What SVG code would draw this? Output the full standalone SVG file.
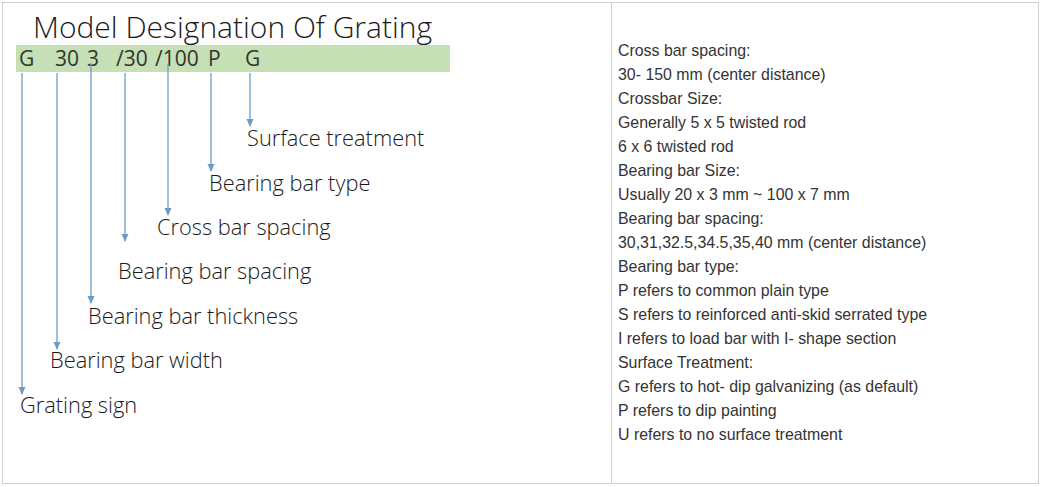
<svg xmlns="http://www.w3.org/2000/svg" width="1045" height="487" viewBox="0 0 1045 487">
<defs>
<style>
.lbl{font-family:"Open Sans","Noto Sans",sans-serif;font-weight:300;font-size:21.8px;fill:#1a1a1a}
.code{font-family:"Open Sans","Noto Sans",sans-serif;font-weight:400;font-size:21px;fill:#333}
.desc{font-family:"Liberation Sans",Arial,sans-serif;font-size:15.9px;fill:#333}
.con{stroke:#6f9cc6;stroke-width:1.3;fill:none}
.ah{fill:#6f9cc6}
</style>
</defs>
<rect x="0" y="0" width="1045" height="487" fill="#fff"/>
<rect x="2.5" y="2.5" width="1036" height="481" fill="none" stroke="#d0d0d0" stroke-width="1"/>
<line x1="611.5" y1="3" x2="611.5" y2="483" stroke="#d0d0d0" stroke-width="1"/>
<g id="title">
<text x="33" y="38" style="font-family:'Open Sans','Noto Sans',sans-serif;font-weight:300;font-size:30px;fill:#1a1a1a">Model Designation Of Grating</text>
</g>
<g id="code">
<rect x="16" y="45" width="434" height="27" fill="#c5e0b4"/>
<text class="code" x="19" y="66">G</text>
<text class="code" x="55" y="66">30</text>
<text class="code" x="87" y="66">3</text>
<text class="code" x="116" y="66">/30</text>
<text class="code" x="155" y="66">/100</text>
<text class="code" x="208" y="66">P</text>
<text class="code" x="245" y="66">G</text>
</g>
<g id="connectors">
<line class="con" x1="22" y1="73" x2="22" y2="394"/>
<path class="ah" d="M18.5,387 L25.5,387 L22,395 Z"/>
<line class="con" x1="57" y1="73" x2="57" y2="349"/>
<path class="ah" d="M53.5,342 L60.5,342 L57,350 Z"/>
<line class="con" x1="91" y1="63" x2="91" y2="303"/>
<path class="ah" d="M87.5,296 L94.5,296 L91,304 Z"/>
<line class="con" x1="125" y1="73" x2="125" y2="241"/>
<path class="ah" d="M121.5,234 L128.5,234 L125,242 Z"/>
<line class="con" x1="168" y1="64" x2="168" y2="215"/>
<path class="ah" d="M164.5,208 L171.5,208 L168,216 Z"/>
<line class="con" x1="211" y1="73" x2="211" y2="171"/>
<path class="ah" d="M207.5,164 L214.5,164 L211,172 Z"/>
<line class="con" x1="250" y1="73" x2="250" y2="126"/>
<path class="ah" d="M246.5,119 L253.5,119 L250,127 Z"/>
</g>
<g id="n-surface"><text class="lbl" x="247" y="146">Surface treatment</text></g>
<g id="n-type"><text class="lbl" x="209" y="191">Bearing bar type</text></g>
<g id="n-cross"><text class="lbl" x="157" y="235">Cross bar spacing</text></g>
<g id="n-spacing"><text class="lbl" x="118" y="279">Bearing bar spacing</text></g>
<g id="n-thick"><text class="lbl" x="88" y="324">Bearing bar thickness</text></g>
<g id="n-width"><text class="lbl" x="50" y="368">Bearing bar width</text></g>
<g id="n-sign"><text class="lbl" x="20" y="413">Grating sign</text></g>
<g id="description">
<text class="desc" x="618" y="56">Cross bar spacing:</text>
<text class="desc" x="618" y="80">30- 150 mm (center distance)</text>
<text class="desc" x="618" y="104">Crossbar Size:</text>
<text class="desc" x="618" y="128">Generally 5 x 5 twisted rod</text>
<text class="desc" x="618" y="152">6 x 6 twisted rod</text>
<text class="desc" x="618" y="176">Bearing bar Size:</text>
<text class="desc" x="618" y="200">Usually 20 x 3 mm ~ 100 x 7 mm</text>
<text class="desc" x="618" y="224">Bearing bar spacing:</text>
<text class="desc" x="618" y="248">30,31,32.5,34.5,35,40 mm (center distance)</text>
<text class="desc" x="618" y="272">Bearing bar type:</text>
<text class="desc" x="618" y="296">P refers to common plain type</text>
<text class="desc" x="618" y="320">S refers to reinforced anti-skid serrated type</text>
<text class="desc" x="618" y="344">I refers to load bar with I- shape section</text>
<text class="desc" x="618" y="368">Surface Treatment:</text>
<text class="desc" x="618" y="392">G refers to hot- dip galvanizing (as default)</text>
<text class="desc" x="618" y="416">P refers to dip painting</text>
<text class="desc" x="618" y="440">U refers to no surface treatment</text>
</g>
</svg>
